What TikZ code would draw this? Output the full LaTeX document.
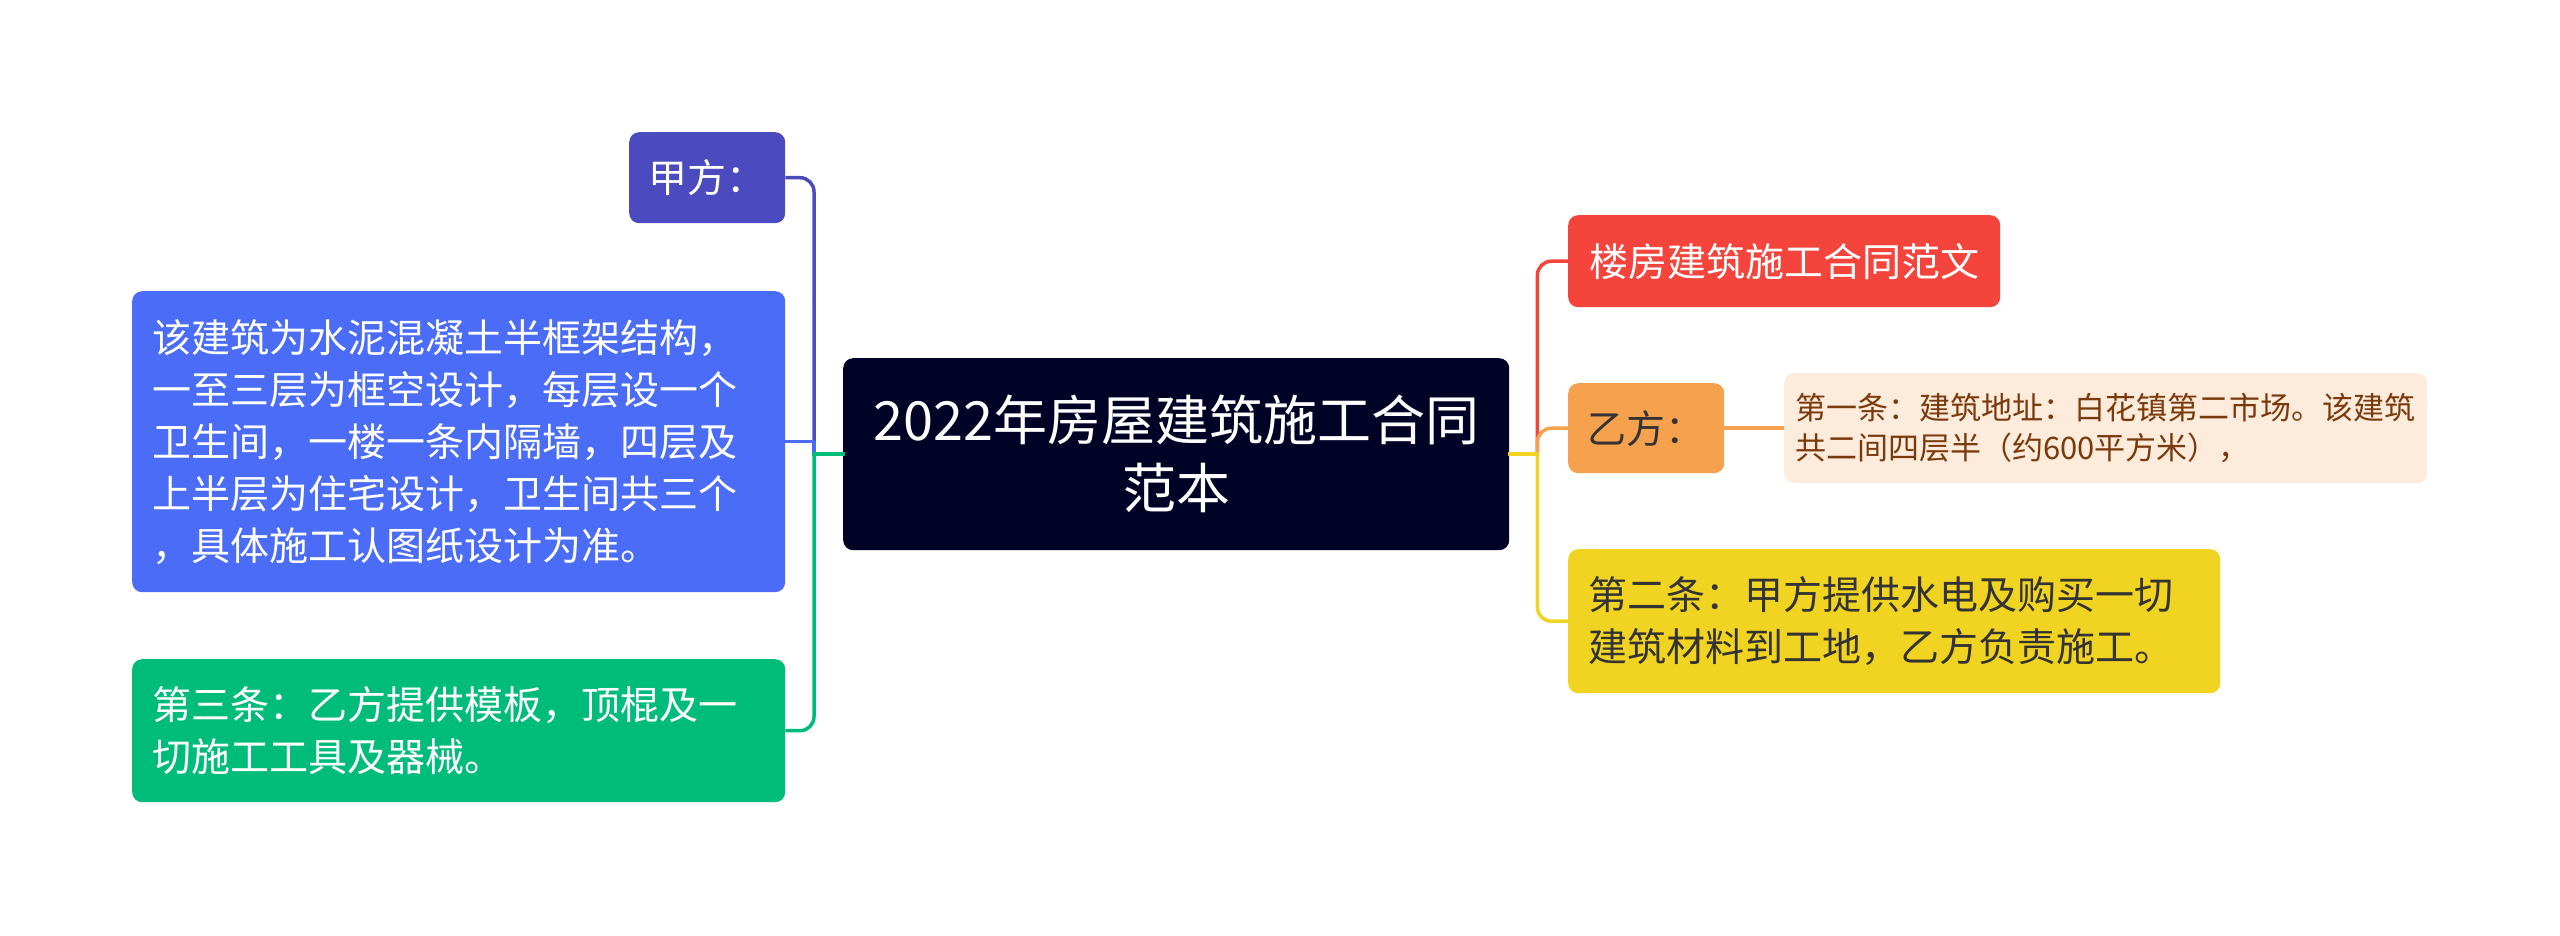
\documentclass[tikz,border=0pt]{standalone}
\usepackage{fontspec}
\setmainfont{Noto Sans CJK SC}
\definecolor{cPurple}{HTML}{4B4BBF}
\definecolor{cBlue}{HTML}{4A6CF7}
\definecolor{cGreen}{HTML}{00BC7B}
\definecolor{cNavy}{HTML}{000326}
\definecolor{cRed}{HTML}{F5443C}
\definecolor{cOrange}{HTML}{F5A14E}
\definecolor{cPeach}{HTML}{FDEBDC}
\definecolor{cBrown}{HTML}{7B3A0C}
\definecolor{cYellow}{HTML}{F0D421}
\definecolor{cDark}{HTML}{333333}
\begin{document}
\begin{tikzpicture}[x=1pt,y=-1pt,
  box/.style={rounded corners=10pt, inner ysep=0pt, anchor=north west, font=\fontsize{39}{52}\selectfont},
  multi/.style={inner xsep=20pt, align=left},
  conn/.style={line width=3.5pt, line join=round},
  stub/.style={line width=3.5pt, line cap=rect},
  curvedconn/.style={line width=3.5pt, rounded corners=14pt},
]
\useasboundingbox (0,0) rectangle (2560,935);
\fill[white] (0,0) rectangle (2560,935);

% central
\node[box, fill=cNavy, text=white, minimum width=666pt, minimum height=192pt, text width=626pt, inner xsep=20pt, align=center, font=\fontsize{54}{68}\selectfont] (c) at (843,358) {2022年房屋建筑施工合同\\范本};

% left
\node[box, fill=cPurple, text=white, minimum width=156pt, minimum height=91pt] (jia) at (629,132) {甲方：};
\node[box, multi, fill=cBlue, text=white, minimum width=653pt, minimum height=301pt, text width=613pt] (blue) at (132,291) {该建筑为水泥混凝土半框架结构，\\一至三层为框空设计，每层设一个\\卫生间，一楼一条内隔墙，四层及\\上半层为住宅设计，卫生间共三个\\，具体施工认图纸设计为准。};
\node[box, multi, fill=cGreen, text=white, minimum width=653pt, minimum height=143pt, text width=613pt] (green) at (132,659) {第三条：乙方提供模板，顶棍及一\\切施工工具及器械。};

% right
\node[box, fill=cRed, text=white, minimum width=432pt, minimum height=92pt] (red) at (1568,215) {楼房建筑施工合同范文};
\node[box, fill=cOrange, text=cDark, minimum width=156pt, minimum height=90pt] (yi) at (1568,383) {乙方：};
\node[box, fill=cPeach, text=cBrown, inner xsep=11pt, align=left, text width=621pt, minimum height=110pt, font=\fontsize{31}{40}\selectfont] (peach) at (1784,373) {第一条：建筑地址：白花镇第二市场。该建筑\\共二间四层半（约600平方米），};
\node[box, multi, fill=cYellow, text=cDark, minimum width=652pt, minimum height=144pt, text width=612pt] (yellow) at (1568,549) {第二条：甲方提供水电及购买一切\\建筑材料到工地，乙方负责施工。};

\coordinate (jl) at ([xshift=-29pt]c.west);
\coordinate (jr) at ([xshift=28pt]c.east);

% connectors left
\draw[curvedconn, cPurple] (jl) |- (jia.east);
\draw[conn, cBlue] (jl) |- (blue.east);
\draw[curvedconn, cGreen] (jl) |- (green.east);
\draw[stub, cGreen] (c.west) -- (jl);

% connectors right
\draw[curvedconn, cRed] (jr) |- (red.west);
\draw[curvedconn, cOrange] (jr) |- (yi.west);
\draw[curvedconn, cYellow] (jr) |- (yellow.west);
\draw[stub, cYellow] (c.east) -- (jr);
\draw[conn, cOrange] (yi.east) -- (peach.west);
\end{tikzpicture}
\end{document}
